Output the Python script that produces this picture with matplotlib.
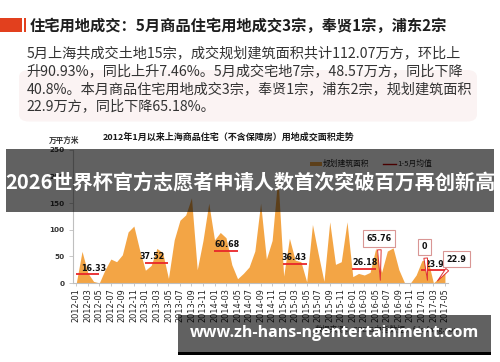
import matplotlib
matplotlib.use("Agg")
import matplotlib.pyplot as plt
from matplotlib.patches import Rectangle, FancyBboxPatch
import pandas as pd
import numpy as np

plt.rcParams['font.family'] = ['Noto Sans CJK SC', 'DejaVu Sans']

# ---------------- data ----------------
months = [p.strftime('%Y-%m') for p in pd.period_range('2012-01', '2017-05', freq='M')]
area_2012 = [0, 59.5, 19, 3, 0.15, 25, 45, 40, 53, 96, 107, 62]
area_2013 = [24, 33, 65, 57, 8.6, 81, 118, 128, 160, 25, 80, 150]
area_2014 = [81, 95, 85, 34.4, 8, 18, 30, 60, 150, 45, 80, 200]
area_2015 = [13, 84, 43, 40, 2.15, 110, 55, 3, 115, 35, 40, 115]
area_2016 = [12, 18, 15, 19.98, 65.76, 20, 60, 66, 25, 0, 0, 15]
area_2017 = [42, 45, 0, 10.05, 22.9]
area_values = area_2012 + area_2013 + area_2014 + area_2015 + area_2016 + area_2017

avg_years = ['2012', '2013', '2014', '2015', '2016', '2017']
avg_values = [16.33, 37.52, 60.68, 36.43, 26.18, 23.99]

callout_texts = ['65.76', '0', '22.9']
callout_months = ['2016-05', '2017-03', '2017-05']

y_ticks = [0, 50, 100, 150, 200, 250]

title_text = '住宅用地成交：5月商品住宅用地成交3宗，奉贤1宗，浦东2宗'
body_lines = ['5月上海共成交土地15宗，成交规划建筑面积共计112.07万方，环比上',
              '升90.93%，同比上升7.46%。5月成交宅地7宗，48.57万方，同比下降',
              '40.8%。本月商品住宅用地成交3宗，奉贤1宗，浦东2宗，规划建筑面积',
              '22.9万方，同比下降65.18%。']
chart_title = '2012年1月以来上海商品住宅（不含保障房）用地成交面积走势'
unit_text = '万平方米'
legend_labels = ['规划建筑面积', '1-5月均值']
source_text = '数据来源：CREIS中指数据，fdc.fang.com'
banner1_text = '2026世界杯官方志愿者申请人数首次突破百万再创新高'
banner2_text = 'www.zh-hans-ngentertainment.com'

# ---------------- figure ----------------
W, H = 500, 362
fig = plt.figure(figsize=(5, 3.62), dpi=100)
fig.patch.set_facecolor('white')

def fx(x):
    return x / W

def fy(y):
    return 1 - y / H

def rect(x0, y0, x1, y1, **kw):
    r = Rectangle((fx(x0), fy(y1)), (x1 - x0) / W, (y1 - y0) / H,
                  transform=fig.transFigure, **kw)
    fig.patches.append(r)
    return r

ORANGE = '#F3A545'
RED = '#E8262A'

# header
rect(0, 18, 21.5, 31.5, color='#E2401E', lw=0, zorder=2)
rect(23.5, 18, 25.5, 31.5, color='#E2401E', lw=0, zorder=2)
fig.text(fx(29.5), fy(25.5), title_text, fontsize=11.0, fontweight='bold',
         color='#1e1e1e', va='center', ha='left', zorder=3)

bg = FancyBboxPatch((fx(19), fy(121.5)), (477 - 19) / W, (121.5 - 70) / H,
                    boxstyle='round,pad=0,rounding_size=0.02',
                    transform=fig.transFigure, fc='#FBF3F3', ec='none', zorder=1)
fig.patches.append(bg)
for i, line in enumerate(body_lines):
    fig.text(fx(26.5), fy(53.5 + i * 17.6), line, fontsize=10.2,
             color='#333333', va='center', ha='left', zorder=3)

# chart
ax_left, ax_right, ax_top, ax_bot = 72.7, 448.4, 150, 283
ax = fig.add_axes([fx(ax_left), fy(ax_bot), (ax_right - ax_left) / W, (ax_bot - ax_top) / H])
idx = np.arange(len(months))
ax.fill_between(idx, area_values, 0, color=ORANGE, lw=0, zorder=1)
ax.set_xlim(-0.62, 64.6)
ax.set_ylim(0, 250)
ax.set_facecolor('none')
for s in ['top', 'right']:
    ax.spines[s].set_visible(False)
for s in ['left', 'bottom']:
    ax.spines[s].set_color('#BFBFBF')
    ax.spines[s].set_linewidth(0.8)
ax.set_yticks(y_ticks)
ax.set_yticklabels([str(v) for v in y_ticks], fontsize=5.2, fontweight='bold',
                   color='#333333', family=['DejaVu Sans'])
ax.tick_params(axis='y', length=3, width=0.6, color='#BFBFBF', pad=3)
ax.set_xticks(idx[::2])
ax.set_xticklabels(months[::2], rotation=90, fontsize=5.9, color='#222222',
                   family=['DejaVu Sans'])
ax.tick_params(axis='x', length=2, width=0.6, color='#BFBFBF', pad=1.5)

label_dx = [3.0, 1.2, 2.2, 1.8, 2.1, 2.6]
for k, (yr, v) in enumerate(zip(avg_years, avg_values)):
    i0 = months.index(yr + '-01')
    ax.plot([i0 - 0.1, i0 + 4.0], [v, v], color=RED, lw=1.3, zorder=3,
            solid_capstyle='butt')
    ax.annotate(f'{v:.2f}', xy=(i0 + label_dx[k], v), xytext=(0, 1.2),
                textcoords='offset points', ha='center', va='bottom',
                fontsize=5.8, fontweight='bold', color='#111111',
                family=['DejaVu Sans'], zorder=4)

box_pos = [(52.55, 83.6), (60.5, 68), (66.0, 45)]
tip_dx = [0.8, -1.0, -1.6]
for t, m, (bx, by), dx in zip(callout_texts, callout_months, box_pos, tip_dx):
    i = months.index(m)
    ax.annotate(t, xy=(i + dx, 0), xytext=(bx, by), textcoords='data',
                ha='center', va='center', fontsize=5.8, fontweight='bold',
                color='#111111', family=['DejaVu Sans'], annotation_clip=False,
                bbox=dict(boxstyle='square,pad=0.45', fc='white', ec='#D99694', lw=0.8),
                arrowprops=dict(arrowstyle='wedge,tail_width=0.45,shrink_factor=0.5',
                                fc='white', ec='#E03030', lw=0.7),
                zorder=5)

# chart title / unit / legend
fig.text(fx(228.5), fy(137.5), chart_title, fontsize=6.5, fontweight='bold',
         color='#1a1a1a', ha='center', va='center')
fig.text(fx(49), fy(140.5), unit_text, fontsize=5.5, fontweight='bold',
         color='#333333', ha='left', va='center')
rect(310, 161.5, 322, 165.5, color=ORANGE, lw=0, zorder=2)
fig.text(fx(322.5), fy(163.5), legend_labels[0], fontsize=5.6, color='#222222',
         ha='left', va='center')
fig.lines.append(plt.Line2D([fx(383), fx(395.5)], [fy(163.5), fy(163.5)],
                            transform=fig.transFigure, color='#C00000', lw=1.0))
fig.text(fx(397), fy(163.5), legend_labels[1], fontsize=5.6, color='#222222',
         ha='left', va='center')
fig.text(fx(315), fy(329), source_text, fontsize=5.6, color='#333333',
         ha='left', va='center')

# overlay banners
rect(6, 149, 494, 212, color='black', alpha=0.62, lw=0, zorder=10)
fig.text(fx(250), fy(183), banner1_text, fontsize=14.5, fontweight='bold',
         color='white', ha='center', va='center', zorder=11)
rect(178, 315, 491, 352, color='black', alpha=0.62, lw=0, zorder=10)
rect(178, 352, 491, 354.5, color='black', lw=0, zorder=10)
fig.text(fx(334.5), fy(333), banner2_text, fontsize=11.5, fontweight='bold',
         color='white', ha='center', va='center', family=['Open Sans', 'DejaVu Sans'],
         zorder=11)

fig.savefig('out.png', dpi=100)
